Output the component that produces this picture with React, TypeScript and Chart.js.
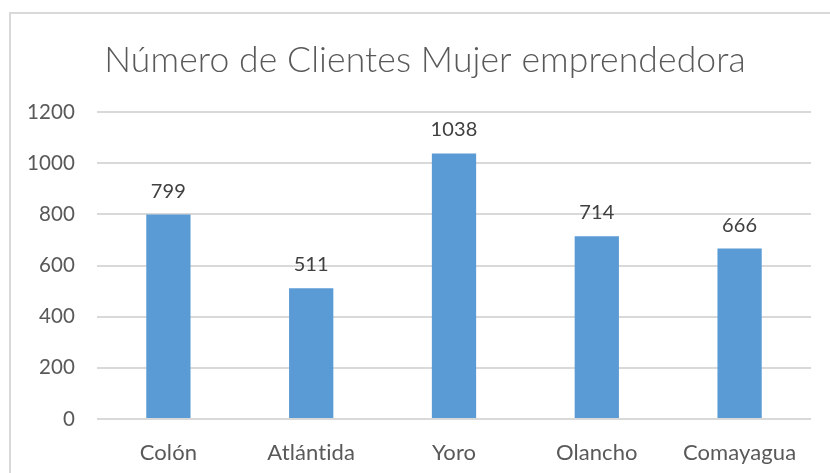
import React, { useEffect, useRef } from "react";
import { Chart, registerables } from "chart.js";

Chart.register(...registerables);

const categories = ["Colón", "Atlántida", "Yoro", "Olancho", "Comayagua"];
const values = [799, 511, 1038, 714, 666];
const titleText = "Número de Clientes Mujer emprendedora";
const yMin = 0;
const yMax = 1200;
const yStep = 200;

const FONT = "Lato, 'Open Sans', sans-serif";

const spacingPlugin = {
  id: "noLigatures",
  beforeDraw(chart: any) {
    (chart.ctx as any).letterSpacing = "0.1px";
  },
};

const titlePlugin = {
  id: "customTitle",
  afterDraw(chart: any) {
    const ctx = chart.ctx;
    ctx.save();
    (ctx as any).letterSpacing = "0.1px";
    ctx.font = `300 35.5px ${FONT}`;
    ctx.fillStyle = "#595959";
    ctx.textAlign = "center";
    ctx.textBaseline = "alphabetic";
    ctx.fillText(titleText, 425, 72);
    ctx.restore();
  },
};

const labelPlugin = {
  id: "valueLabels",
  afterDatasetsDraw(chart: any) {
    const ctx = chart.ctx;
    const meta = chart.getDatasetMeta(0);
    ctx.save();
    ctx.font = `20px ${FONT}`;
    ctx.fillStyle = "#404040";
    ctx.textAlign = "center";
    ctx.textBaseline = "alphabetic";
    meta.data.forEach((bar: any, i: number) => {
      ctx.fillText(String(values[i]), bar.x, bar.y - 17);
    });
    ctx.restore();
  },
};

export default function App() {
  const ref = useRef<HTMLCanvasElement | null>(null);

  useEffect(() => {
    document.body.style.margin = "0";
    const chart = new Chart(ref.current as HTMLCanvasElement, {
      type: "bar",
      data: {
        labels: categories,
        datasets: [
          {
            data: values,
            backgroundColor: "#5b9bd5",
            borderWidth: 0,
            categoryPercentage: 1,
            barPercentage: 0.31,
          },
        ],
      },
      options: {
        animation: false,
        responsive: false,
        devicePixelRatio: 1,
        layout: { padding: { top: 112, left: 10, right: 19, bottom: 0 } },
        plugins: {
          legend: { display: false },
          tooltip: { enabled: false },
          title: { display: false },
        },
        scales: {
          x: {
            grid: { display: false, drawTicks: false },
            border: { display: false },
            ticks: {
              color: "#595959",
              font: { family: FONT, size: 22 },
              padding: 21,
              maxRotation: 0,
            },
            afterFit(s: any) {
              s.height = 54;
            },
          },
          y: {
            min: yMin,
            max: yMax,
            grid: { color: "#d9d9d9", lineWidth: 2, drawTicks: false },
            border: { display: false },
            ticks: {
              stepSize: yStep,
              color: "#595959",
              font: { family: FONT, size: 20.5 },
              padding: 22,
              callback: (v: any) => String(v),
            },
            afterFit(s: any) {
              s.width = 87;
            },
          },
        },
      },
      plugins: [spacingPlugin, titlePlugin, labelPlugin],
    });
    return () => chart.destroy();
  }, []);

  return (
    <div
      style={{
        position: "relative",
        width: 830,
        height: 473,
        overflow: "hidden",
        background: "#fff",
      }}
    >
      <div
        style={{
          position: "absolute",
          left: 9,
          top: 12,
          width: 840,
          height: 480,
          border: "2px solid #d9d9d9",
          boxSizing: "border-box",
        }}
      />
      <canvas
        ref={ref}
        width={830}
        height={473}
        style={{ position: "absolute", left: 0, top: 0, width: 830, height: 473 }}
      />
    </div>
  );
}
